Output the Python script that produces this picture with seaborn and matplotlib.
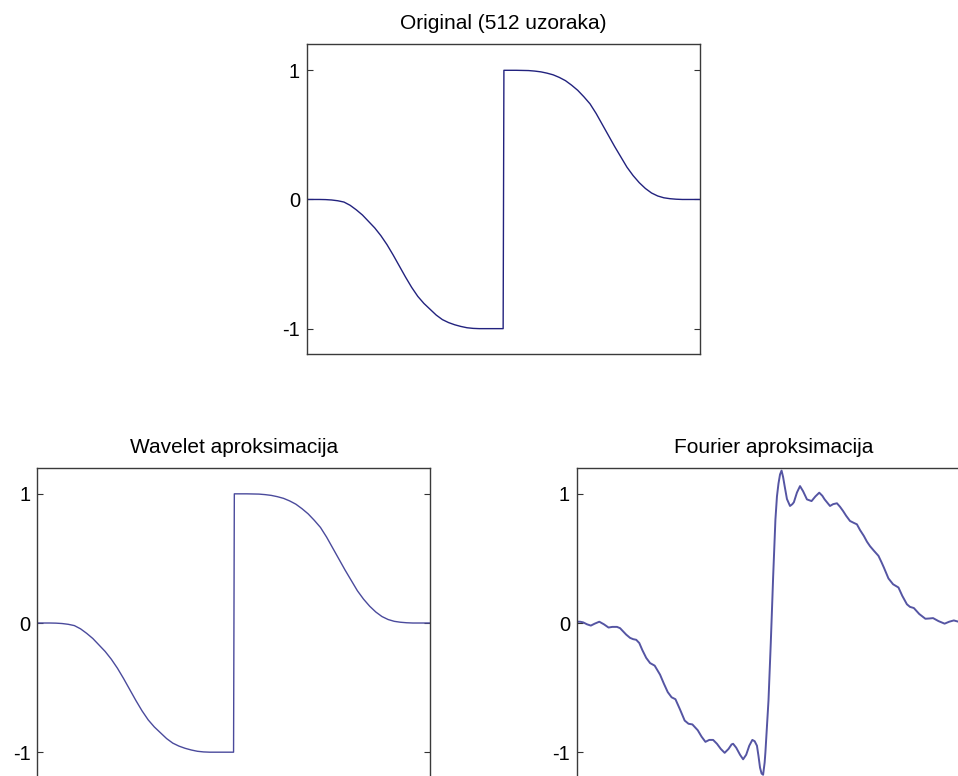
import pandas as pd
import matplotlib.pyplot as plt
import seaborn as sns

# sample indices (512 samples) and values
orig_x = [0, 8, 16, 24, 32, 40, 48, 56, 64, 72, 80, 88, 96, 104, 112, 120, 128, 136, 144,
          152, 160, 168, 176, 184, 192, 200, 208, 216, 224, 232, 240, 248, 255,
          256, 264, 272, 280, 288, 296, 304, 312, 320, 328, 336, 344, 352, 360, 368, 376,
          384, 392, 400, 408, 416, 424, 432, 440, 448, 456, 464, 472, 480, 488, 496, 504, 511]
orig_y = [0.0, 0.0, 0.0, -0.001, -0.004, -0.01, -0.02, -0.045, -0.08, -0.12, -0.17, -0.22,
          -0.28, -0.35, -0.43, -0.515, -0.60, -0.68, -0.75, -0.805, -0.85, -0.895, -0.93,
          -0.953, -0.97, -0.983, -0.993, -0.998, -1.0, -1.0, -1.0, -1.0, -1.0,
          1.0, 1.0, 1.0, 0.999, 0.998, 0.994, 0.988, 0.978, 0.965, 0.945, 0.92, 0.885, 0.845,
          0.795, 0.74, 0.665, 0.58, 0.495, 0.41, 0.33, 0.25, 0.185, 0.13, 0.085, 0.05, 0.027,
          0.013, 0.006, 0.002, 0.0, 0.0, 0.0, 0.0]

wavelet_x = [0, 8, 16, 24, 32, 40, 48, 56, 64, 72, 80, 88, 96, 104, 112, 120, 128, 136, 144,
             152, 160, 168, 176, 184, 192, 200, 208, 216, 224, 232, 240, 248, 255,
             256, 264, 272, 280, 288, 296, 304, 312, 320, 328, 336, 344, 352, 360, 368, 376,
             384, 392, 400, 408, 416, 424, 432, 440, 448, 456, 464, 472, 480, 488, 496, 504, 511]
wavelet_y = [0.0, 0.0, 0.0, -0.001, -0.004, -0.01, -0.02, -0.045, -0.08, -0.12, -0.17, -0.22,
             -0.28, -0.35, -0.43, -0.515, -0.60, -0.68, -0.75, -0.805, -0.85, -0.895, -0.93,
             -0.953, -0.97, -0.983, -0.993, -0.998, -1.0, -1.0, -1.0, -1.0, -1.0,
             1.0, 1.0, 1.0, 0.999, 0.998, 0.994, 0.988, 0.978, 0.965, 0.945, 0.92, 0.885, 0.845,
             0.795, 0.74, 0.665, 0.58, 0.495, 0.41, 0.33, 0.25, 0.185, 0.13, 0.085, 0.05, 0.027,
             0.013, 0.006, 0.002, 0.0, 0.0, 0.0, 0.0]

fourier_x = [0, 4, 8, 13, 18, 23, 29, 35, 41, 46, 52, 56, 60, 64, 69, 73, 77, 81, 85, 90,
             95, 101, 104, 108, 113, 118, 123, 128, 134, 140, 145, 150, 157, 162, 167, 172,
             177, 182, 187, 192, 197, 201, 203, 207, 212, 216, 220, 224, 228, 231, 234, 236,
             238, 240, 242, 244, 245, 247, 249, 251, 252, 254, 255, 257, 258, 260, 262, 264,
             266, 268, 270, 273, 277, 280, 282, 286, 290, 294, 299, 305, 310, 315, 319, 322,
             329, 333, 338, 342, 346, 350, 355, 360, 364, 368, 373, 377, 381, 386, 392, 396,
             399, 405, 411, 418, 423, 429, 433, 438, 445, 453, 458, 463, 470, 478, 484, 490,
             496, 501, 506, 511]
fourier_y = [0.01, 0.01, 0.005, -0.01, -0.02, -0.005, 0.01, -0.01, -0.035, -0.03, -0.03,
             -0.04, -0.065, -0.09, -0.115, -0.125, -0.13, -0.155, -0.21, -0.27, -0.31, -0.33,
             -0.36, -0.40, -0.47, -0.535, -0.575, -0.59, -0.67, -0.755, -0.78, -0.785, -0.83,
             -0.88, -0.92, -0.905, -0.905, -0.935, -0.975, -1.005, -0.975, -0.94, -0.935,
             -0.965, -1.02, -1.055, -1.02, -0.95, -0.905, -0.915, -0.95, -1.03, -1.12, -1.165,
             -1.175, -1.08, -1.0, -0.8, -0.6, -0.3, -0.15, 0.18, 0.35, 0.65, 0.80, 0.98, 1.08,
             1.15, 1.18, 1.13, 1.06, 0.96, 0.906, 0.92, 0.935, 1.01, 1.06, 1.02, 0.957, 0.944,
             0.98, 1.009, 0.985, 0.957, 0.906, 0.92, 0.927, 0.90, 0.867, 0.83, 0.79, 0.775,
             0.764, 0.72, 0.674, 0.63, 0.595, 0.56, 0.52, 0.47, 0.43, 0.345, 0.30, 0.275, 0.21,
             0.145, 0.125, 0.116, 0.07, 0.033, 0.035, 0.038, 0.015, -0.005, 0.01, 0.02, 0.01,
             0.0, 0.005, 0.01]

titles = ['Original (512 uzoraka)', 'Wavelet aproksimacija', 'Fourier aproksimacija']
ytick_vals = [-1, 0, 1]
ytick_labels = ['-1', '0', '1']

sns.set_theme(style='white')
plt.rcParams['font.family'] = ['Liberation Sans', 'DejaVu Sans']
plt.rcParams['text.color'] = 'black'
plt.rcParams['ytick.color'] = 'black'

fig = plt.figure(figsize=(9.58, 7.76), dpi=100)
ax_top = fig.add_axes([0.3205, 0.5432, 0.4102, 0.3995])
ax_wav = fig.add_axes([0.0391, -0.0026, 0.4102, 0.3995])
ax_fou = fig.add_axes([0.6023, -0.0026, 0.4102, 0.3995])

panels = [
    (ax_top, orig_x, orig_y, '#22227e', 1.0),
    (ax_wav, wavelet_x, wavelet_y, '#4a4a9c', 1.0),
    (ax_fou, fourier_x, fourier_y, '#5555a3', 1.4),
]

for (ax, xs, ys, col, lw), title in zip(panels, titles):
    df = pd.DataFrame({'n': xs, 'v': ys})
    sns.lineplot(data=df, x='n', y='v', ax=ax, color=col, linewidth=lw,
                 estimator=None, sort=False)
    ax.set_xlim(0, 511)
    ax.set_ylim(-1.2, 1.2)
    ax.set_xticks([])
    ax.set_yticks(ytick_vals)
    ax.set_yticklabels(ytick_labels)
    ax.set_xlabel('')
    ax.set_ylabel('')
    ax.tick_params(axis='y', direction='in', length=4, width=0.8, left=True, right=True,
                   labelsize=14.5, pad=5, color='#333333', labelcolor='black')
    for sp in ax.spines.values():
        sp.set_color('#3a3a3a')
        sp.set_linewidth(1.0)
    ax.set_title(title, fontsize=15, pad=11, color='black')

fig.savefig('out.png', dpi=100)
